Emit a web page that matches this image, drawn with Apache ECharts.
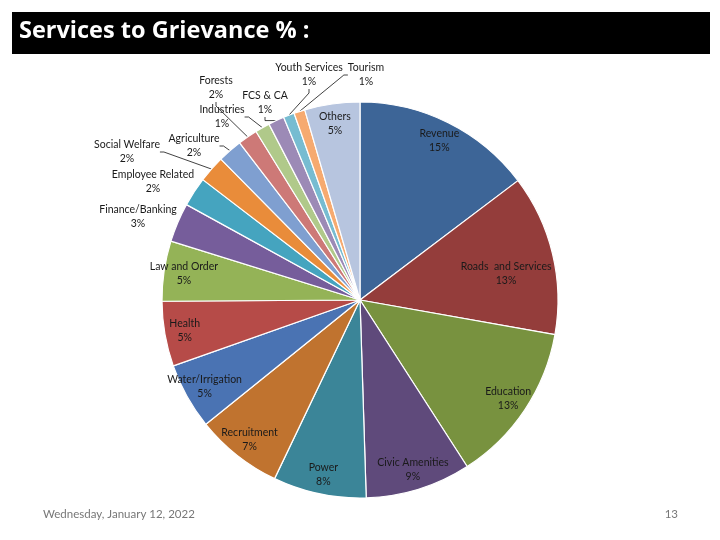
<!DOCTYPE html>
<html>
<head>
<meta charset="utf-8">
<title>Services to Grievance %</title>
<script src="https://cdn.jsdelivr.net/npm/echarts@6/dist/echarts.min.js"></script>
<style>
    html, body { margin: 0; padding: 0; background: #fff; }
    #chart { width: 720px; height: 540px; }
</style>
</head>
<body>
<div id="chart"></div>
<script>
// 部门 (clockwise from 12 o'clock)
const departments = [
    'Revenue', 'Roads  and Services', 'Education', 'Civic Amenities', 'Power',
    'Recruitment', 'Water/Irrigation', 'Health', 'Law and Order', 'Finance/Banking',
    'Employee Related', 'Social Welfare', 'Agriculture', 'Forests', 'Industries',
    'FCS & CA', 'Youth Services', 'Tourism', 'Others'
];
// 占比 %
const shares = [
    14.7, 13.1, 13.1, 8.6, 7.6,
    7.1, 5.4, 5.3, 4.9, 3.2,
    2.4, 2.2, 2.0, 1.6, 1.2,
    1.3, 0.9, 0.9, 4.5
];
const sliceColors = [
    '#3d6597', '#943d3b', '#78923f', '#5f4a7b', '#3b8598',
    '#c0732f', '#4a73b3', '#b64b48', '#94b357', '#765d9b',
    '#45a4bf', '#e98c3a', '#7f9fd0', '#cd7977', '#b0c98a',
    '#9c8ab6', '#77bcd1', '#f6aa70', '#b7c5df'
];

// labels drawn inside the slice
const insideNames = [
    'Revenue', 'Roads  and Services', 'Education', 'Civic Amenities', 'Power',
    'Recruitment', 'Water/Irrigation', 'Health', 'Law and Order', 'Others'
];
// where the outside labels sit (centre of text block)
const outsideSpots = {
    'Finance/Banking': [138, 217],
    'Employee Related': [153, 182],
    'Social Welfare': [127, 152],
    'Agriculture': [194, 146],
    'Forests': [216, 88],
    'Industries': [222, 117],
    'FCS & CA': [265, 103],
    'Youth Services': [309, 75],
    'Tourism': [366, 75]
};
const noLineNames = ['Finance/Banking', 'Employee Related'];
// small nudges for inside labels
const insideNudge = {
    'Roads  and Services': [-27, 15]
};

const labelFont = {
    fontFamily: 'Lato',
    fontSize: 10.5,
    color: '#1a1a1a',
    lineHeight: 14
};
const pctText = p => p.name + '\n' + Math.round(p.percent) + '%';

const pieData = departments.map((name, i) => {
    const inside = insideNames.indexOf(name) >= 0;
    return {
        name: name,
        value: shares[i],
        itemStyle: { color: sliceColors[i] },
        label: { show: !inside },
        labelLine: { show: !inside && noLineNames.indexOf(name) < 0 }
    };
});

const ghostData = departments.map((name, i) => ({
    name: name,
    value: shares[i],
    label: { show: insideNames.indexOf(name) >= 0 }
}));

const chart = echarts.init(document.getElementById('chart'), null, { renderer: 'canvas' });

chart.setOption({
    animation: false,
    backgroundColor: '#fff',
    graphic: [{
        type: 'rect',
        left: 12,
        top: 12,
        z: 0,
        shape: { width: 698, height: 42 },
        style: { fill: '#000' }
    }],
    title: [{
        text: 'Services to Grievance % :',
        left: 19,
        top: 19,
        padding: 0,
        z: 10,
        textStyle: { color: '#fff', fontSize: 23.5, fontWeight: 'bold', fontFamily: 'Open Sans' }
    }, {
        text: 'Wednesday, January 12, 2022',
        left: 43,
        top: 508,
        padding: 0,
        textStyle: { color: '#777', fontSize: 11.5, fontWeight: 'normal', fontFamily: 'Lato' }
    }, {
        text: '13',
        right: 42,
        top: 508,
        padding: 0,
        textStyle: { color: '#777', fontSize: 11.5, fontWeight: 'normal', fontFamily: 'Lato' }
    }],
    series: [{
        type: 'pie',
        center: [360, 300],
        radius: 198,
        startAngle: 90,
        clockwise: true,
        avoidLabelOverlap: false,
        emphasis: { disabled: true },
        itemStyle: { borderColor: '#fff', borderWidth: 1.2 },
        label: Object.assign({ position: 'outside', formatter: pctText }, labelFont),
        labelLine: {
            length: 6,
            length2: 4,
            lineStyle: { color: '#111', width: 0.8 }
        },
        labelLayout: function (params) {
            const spot = outsideSpots[departments[params.dataIndex]];
            if (!spot) return {};
            return { x: spot[0], y: spot[1], align: 'center', verticalAlign: 'middle' };
        },
        data: pieData
    }, {
        type: 'pie',
        center: [360, 300],
        radius: [152, 198],
        startAngle: 90,
        clockwise: true,
        silent: true,
        avoidLabelOverlap: false,
        itemStyle: { color: 'rgba(0,0,0,0)', borderWidth: 0 },
        label: Object.assign({ position: 'inside', formatter: pctText, align: 'center' }, labelFont),
        labelLine: { show: false },
        labelLayout: function (params) {
            const nudge = insideNudge[departments[params.dataIndex]];
            if (!nudge) return {};
            return { dx: nudge[0], dy: nudge[1] };
        },
        data: ghostData
    }]
});
</script>
</body>
</html>
